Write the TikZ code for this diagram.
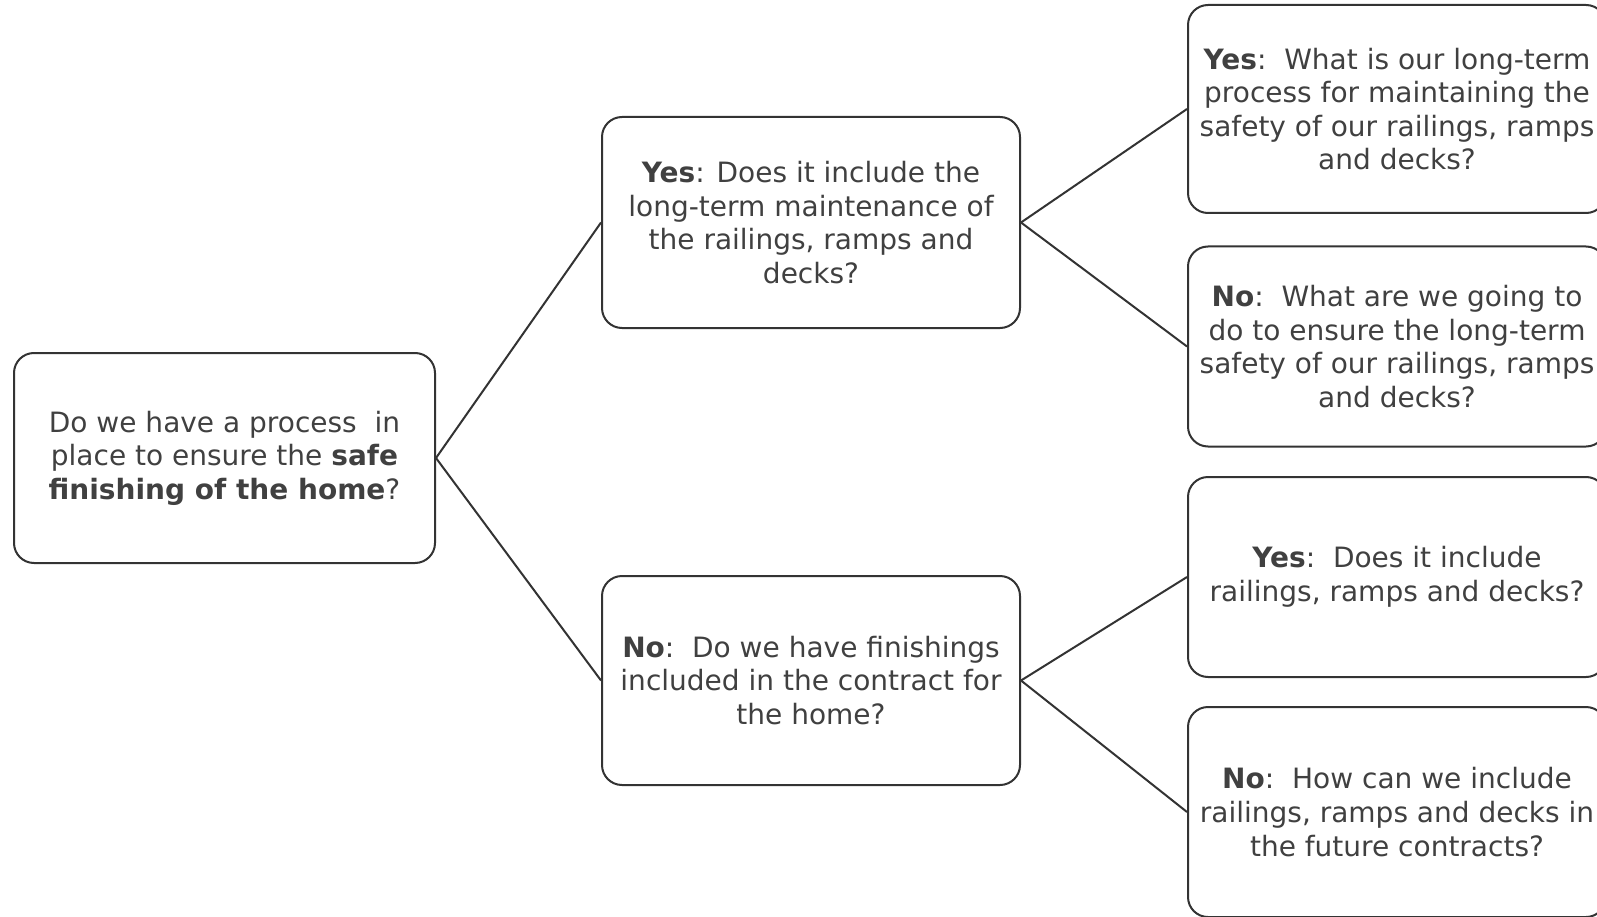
\documentclass[tikz,border=0pt]{standalone}
\usepackage{fontspec}
\setmainfont{DejaVu Sans}
\definecolor{edge}{HTML}{333333}
\definecolor{txt}{HTML}{404040}
\begin{document}
\begin{tikzpicture}[x=1pt,y=-1pt,
  qbox/.style={draw=edge, line width=2pt, rounded corners=20pt, minimum width=418pt,
    text=txt, align=center, font=\fontsize{28}{33.6}\selectfont, inner sep=0pt},
  link/.style={draw=edge, line width=2pt}]
\useasboundingbox (0,0) rectangle (1597,917);
\clip (0,0) rectangle (1597,917);
\node[qbox, minimum width=421pt, minimum height=210pt] (root) at (224.5,458)
  {Do we have a process\ \ in\\place to ensure the \textbf{safe}\\\textbf{finishing of the home}?};
\node[qbox, minimum height=211pt] (b1) at (811,222.5)
  {\textbf{Yes}: Does it include the\\long-term maintenance of\\the railings, ramps and\\decks?};
\node[qbox, minimum height=209pt] (b2) at (811,680.5)
  {\textbf{No}:\ \ Do we have finishings\\included in the contract for\\the home?};
\node[qbox, minimum height=208pt] (r1) at (1397,109)
  {\textbf{Yes}:\ \ What is our long-term\\process for maintaining the\\safety of our railings, ramps\\and decks?};
\node[qbox, minimum height=200pt] (r2) at (1397,346.5)
  {\textbf{No}:\ \ What are we going to\\do to ensure the long-term\\safety of our railings, ramps\\and decks?};
\node[qbox, minimum height=200pt] (r3) at (1397,577)
  {\textbf{Yes}:\ \ Does it include\\railings, ramps and decks?};
\node[qbox, minimum height=210pt] (r4) at (1397,812)
  {\textbf{No}:\ \ How can we include\\railings, ramps and decks in\\the future contracts?};
\draw[link] (root.east) -- (b1.west);
\draw[link] (root.east) -- (b2.west);
\draw[link] (b1.east) -- (r1.west);
\draw[link] (b1.east) -- (r2.west);
\draw[link] (b2.east) -- (r3.west);
\draw[link] (b2.east) -- (r4.west);
\end{tikzpicture}
\end{document}
